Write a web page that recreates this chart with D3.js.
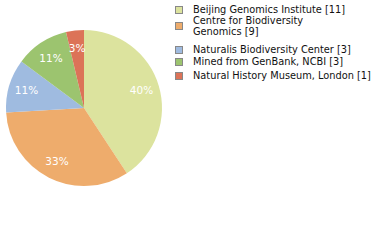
<!DOCTYPE html>
<html><head><meta charset="utf-8">
<script src="https://cdn.jsdelivr.net/npm/d3@7"></script>
<style>body{margin:0;background:#fff}svg{display:block}</style>
</head><body>
<svg id="c" width="380" height="240"></svg>
<script>
const categories = ["Beijing Genomics Institute [11]", "Centre for Biodiversity Genomics [9]", "Naturalis Biodiversity Center [3]", "Mined from GenBank, NCBI [3]", "Natural History Museum, London [1]"];
const legendLines = [["Beijing Genomics Institute [11]"], ["Centre for Biodiversity", "Genomics [9]"], ["Naturalis Biodiversity Center [3]"], ["Mined from GenBank, NCBI [3]"], ["Natural History Museum, London [1]"]];
const values = [11, 9, 3, 3, 1];
const colors = ["#dce39e", "#eeac6c", "#9fbbe0", "#9cc46f", "#dc7358"];

const svg = d3.select("#c");
const cx = 84, cy = 108, r = 78;
const pie = d3.pie().sort(null).value(d => d);
const arcs = pie(values);
const arc = d3.arc().innerRadius(0).outerRadius(r);
const labelArc = d3.arc().innerRadius(r * 0.77).outerRadius(r * 0.77);
const total = d3.sum(values);
const g = svg.append("g").attr("transform", `translate(${cx},${cy})`);
g.selectAll("path").data(arcs).join("path").attr("d", arc).attr("fill", (d, i) => colors[i]);
g.selectAll("text").data(arcs).join("text")
  .attr("transform", d => `translate(${labelArc.centroid(d)})`)
  .attr("text-anchor", "middle").attr("dy", "0.35em")
  .attr("fill", "#fff").attr("font-family", "DejaVu Sans").attr("font-size", 10.5)
  .text(d => Math.floor(d.value / total * 100) + "%");

const rowY = [10, 26, 50, 62, 76];
const lg = svg.append("g");
legendLines.forEach((lines, i) => {
  lg.append("rect").attr("x", 175.5).attr("y", rowY[i] - 3.5).attr("width", 7).attr("height", 7)
    .attr("fill", colors[i]).attr("stroke", "#888").attr("stroke-width", 1);
  const startY = lines.length === 1 ? rowY[i] : rowY[i] - 5.5;
  lines.forEach((t, j) => {
    lg.append("text").attr("x", 193).attr("y", startY + j * 11).attr("dy", "0.35em")
      .attr("font-family", "DejaVu Sans").attr("font-size", 9.8).attr("fill", "#111").text(t);
  });
});
</script>
</body></html>
